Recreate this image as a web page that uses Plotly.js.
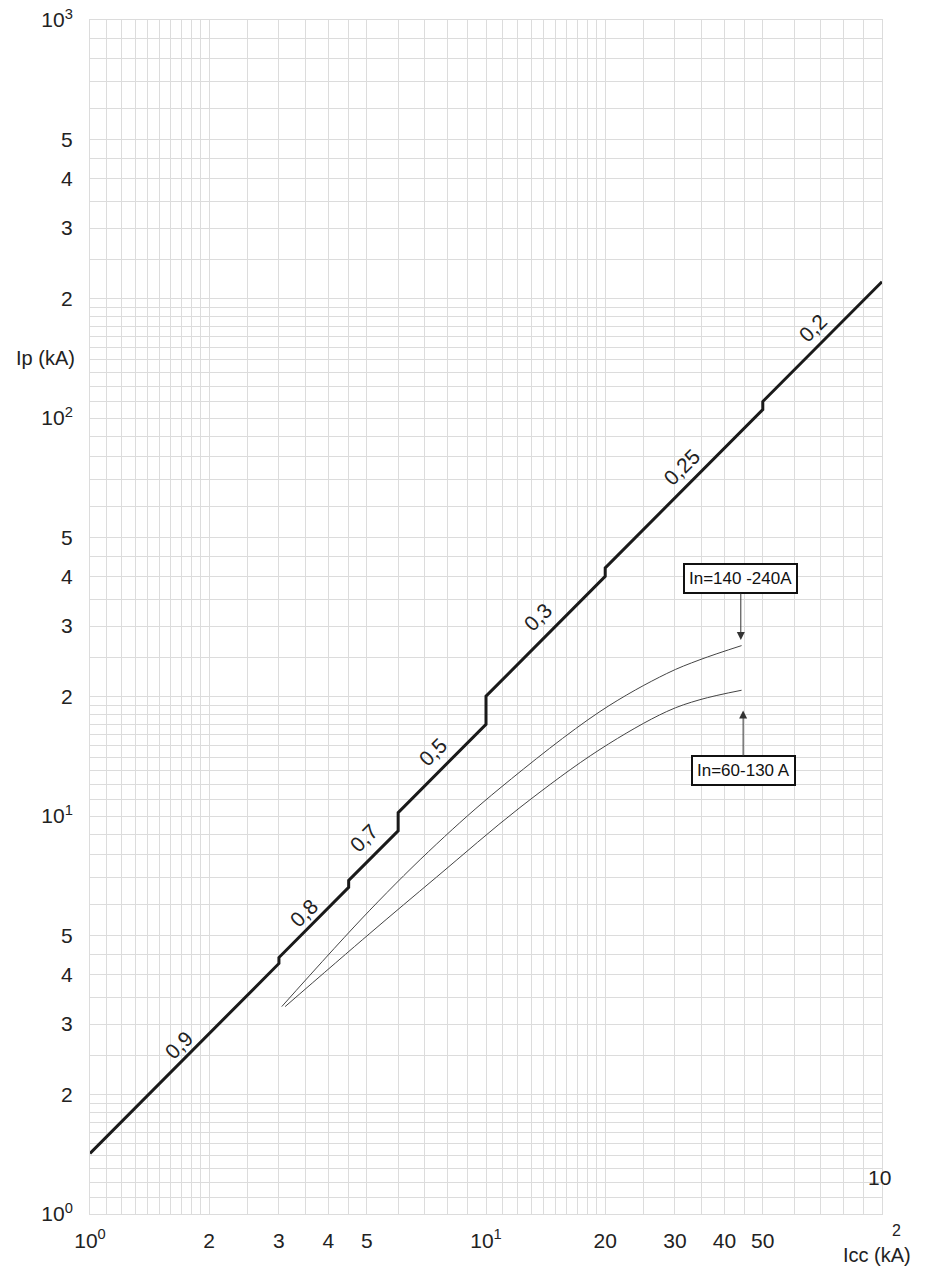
<!DOCTYPE html>
<html>
<head>
<meta charset="utf-8">
<script src="https://cdn.plot.ly/plotly-3.0.1.min.js"></script>
<style>html,body{margin:0;padding:0;background:#fff;}#chart{width:930px;height:1272px;}</style>
</head>
<body>
<div id="chart"></div>
<script>
// Peak current envelope (thick stepped line): Icc (kA) vs Ip (kA)
var envIcc = [1, 3, 3, 4.5, 4.5, 6, 6, 10, 10, 20, 20, 50, 50, 100];
var envIp  = [1.42, 4.26, 4.41, 6.62, 6.89, 9.18, 10.2, 17.0, 20.0, 40.0, 42.0, 105, 110, 220];

// Power-factor labels along the envelope
var pfLabels = ["0,9", "0,8", "0,7", "0,5", "0,3", "0,25", "0,2"];

// Limited peak current curves
var upperIcc = [3.05, 5.09, 7.51, 10.85, 19.4, 28.6, 34.7, 44.2];
var upperIp  = [3.32, 5.80, 8.51, 11.75, 18.3, 22.8, 24.7, 26.8];
var lowerIcc = [3.11, 5.09, 7.51, 12.18, 19.4, 28.6, 34.7, 44.2];
var lowerIp  = [3.32, 5.07, 7.03, 10.5, 14.7, 18.3, 19.6, 20.7];
var upperName = "In=140 -240A";
var lowerName = "In=60-130 A";

// Tick labels
var xTickVals = [1, 2, 3, 4, 5, 10, 20, 30, 40, 50];
var xTickText = ["10<sup>0</sup>", "2", "3", "4", "5", "10<sup>1</sup>", "20", "30", "40", "50"];
var yTickVals = [1, 2, 3, 4, 5, 10, 20, 30, 40, 50, 100, 200, 300, 400, 500, 1000];
var yTickText = ["10<sup>0</sup>", "2", "3", "4", "5", "10<sup>1</sup>", "2", "3", "4", "5",
                 "10<sup>2</sup>", "2", "3", "4", "5", "10<sup>3</sup>"];

// grid subdivisions within a decade
var subdiv = [1.1, 1.2, 1.3, 1.4, 1.5, 1.6, 1.7, 1.8, 1.9, 2.5, 3.5, 4.5, 6, 7, 8, 9];
function minorGrid(decades) {
  var v = [];
  decades.forEach(function (d) {
    subdiv.forEach(function (s) { v.push(+(s * d).toPrecision(6)); });
  });
  return v;
}

var L = 90, R = 882, T = 20, B = 1214;
function P(px, py) {
  return {xref: "paper", yref: "paper", x: (px - L) / (R - L), y: (B - py) / (B - T)};
}
var FONT = "Liberation Sans, Arial, sans-serif";
var TXT = "#222";

var pfPos = [[178, 1045], [303, 913], [363, 838], [432, 752], [537, 617], [681, 467], [812, 328]];

var annotations = [];
pfLabels.forEach(function (t, i) {
  var a = P(pfPos[i][0], pfPos[i][1]);
  a.text = t; a.showarrow = false; a.textangle = -45;
  a.font = {family: FONT, size: 21, color: TXT};
  a.xanchor = "center"; a.yanchor = "middle";
  annotations.push(a);
});

function addText(px, py, t, size) {
  var a = P(px, py);
  a.text = t; a.showarrow = false;
  a.font = {family: FONT, size: size, color: TXT};
  a.xanchor = "center"; a.yanchor = "middle";
  annotations.push(a);
}
addText(45, 358, "Ip (kA)", 20);
addText(879, 1177, "10", 21);
addText(896, 1230, "2", 16);
addText(877, 1255, "Icc (kA)", 20);

var boxFont = {family: "Liberation Sans Narrow, Arial Narrow, Liberation Sans, sans-serif", size: 17, color: "#111"};
annotations.push({
  xref: "x", yref: "y",
  x: Math.log10(44.0), y: Math.log10(27.7),
  ax: 0, ay: -61,
  text: upperName, showarrow: true, arrowhead: 2, arrowsize: 1.6, arrowwidth: 1, arrowcolor: "#333",
  bordercolor: "#111", borderwidth: 2, borderpad: 4, bgcolor: "#fff", font: boxFont
});
annotations.push({
  xref: "x", yref: "y",
  x: Math.log10(44.6), y: Math.log10(18.4),
  ax: 0, ay: 60,
  text: lowerName, showarrow: true, arrowhead: 2, arrowsize: 1.6, arrowwidth: 1, arrowcolor: "#333",
  bordercolor: "#111", borderwidth: 2, borderpad: 4, bgcolor: "#fff", font: boxFont
});

var traces = [
  {x: upperIcc, y: upperIp, mode: "lines", line: {color: "#444", width: 1, shape: "spline", smoothing: 1}, hoverinfo: "skip"},
  {x: lowerIcc, y: lowerIp, mode: "lines", line: {color: "#444", width: 1, shape: "spline", smoothing: 1}, hoverinfo: "skip"},
  {x: envIcc, y: envIp, mode: "lines", line: {color: "#1a1a1a", width: 3}, hoverinfo: "skip"}
];

var gridColor = "#dcdcdc";
var layout = {
  width: 930, height: 1272,
  margin: {l: L, r: 930 - R, t: T, b: 1272 - B, pad: 0},
  paper_bgcolor: "#fff", plot_bgcolor: "#fff",
  showlegend: false,
  font: {family: FONT, size: 21, color: TXT},
  xaxis: {
    type: "log", range: [0, 2],
    tickmode: "array", tickvals: xTickVals, ticktext: xTickText,
    showgrid: true, gridcolor: gridColor, gridwidth: 1,
    minor: {tickmode: "array", tickvals: minorGrid([1, 10]), showgrid: true, gridcolor: gridColor, gridwidth: 1, ticks: ""},
    showline: true, linecolor: gridColor, linewidth: 1, mirror: true,
    ticks: "", ticklabelstandoff: 8,
    tickfont: {family: FONT, size: 21, color: TXT},
    zeroline: false
  },
  yaxis: {
    type: "log", range: [0, 3],
    tickmode: "array", tickvals: yTickVals, ticktext: yTickText,
    showgrid: true, gridcolor: gridColor, gridwidth: 1,
    minor: {tickmode: "array", tickvals: minorGrid([1, 10, 100]), showgrid: true, gridcolor: gridColor, gridwidth: 1, ticks: ""},
    showline: true, linecolor: gridColor, linewidth: 1, mirror: true,
    ticks: "", ticklabelstandoff: 12,
    tickfont: {family: FONT, size: 21, color: TXT},
    zeroline: false
  },
  annotations: annotations
};

Plotly.newPlot("chart", traces, layout, {staticPlot: true, displayModeBar: false});
</script>
</body>
</html>
